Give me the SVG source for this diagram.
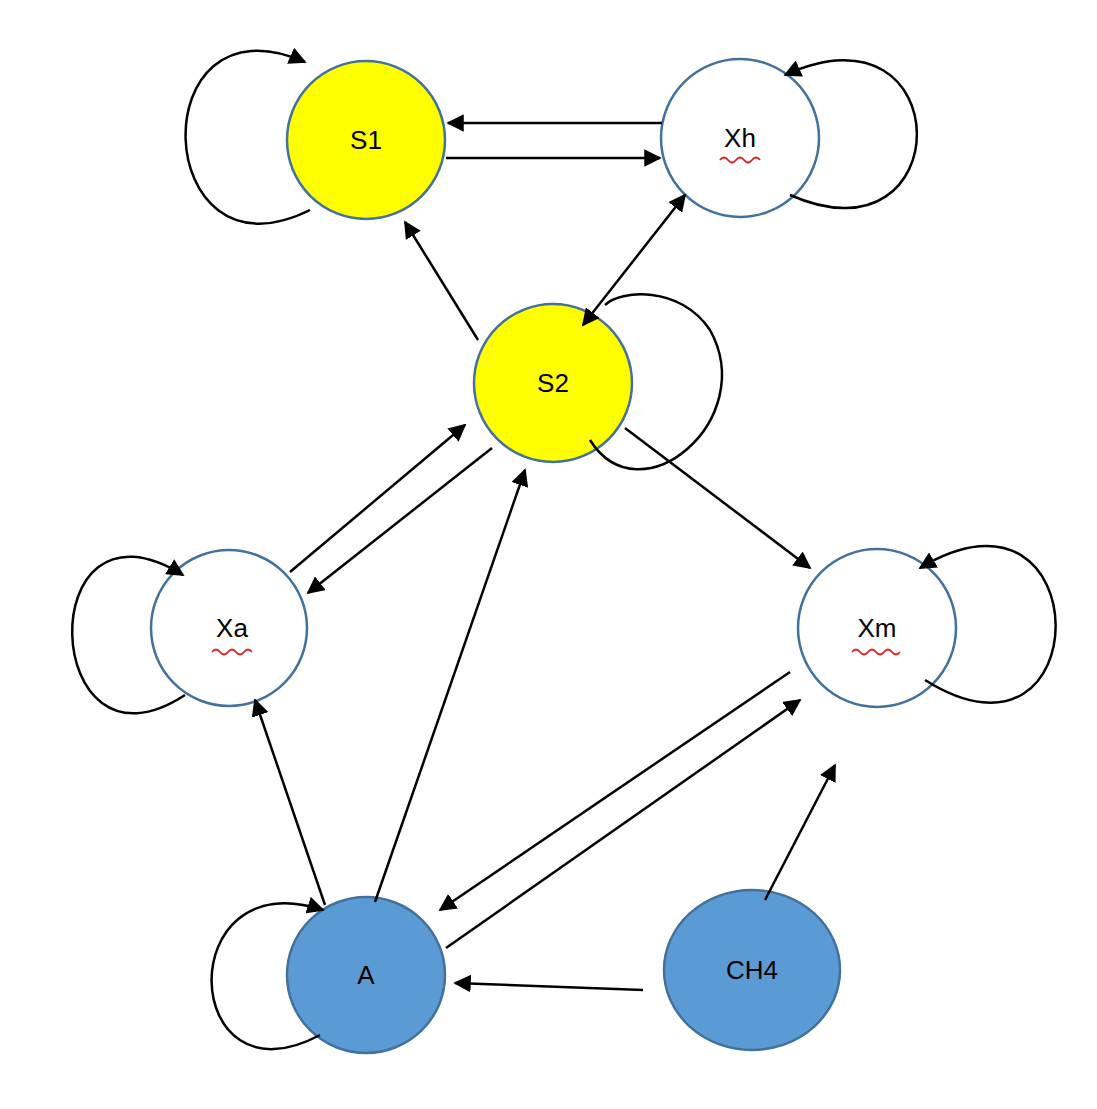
<svg xmlns="http://www.w3.org/2000/svg" width="1097" height="1109" viewBox="0 0 1097 1109">
<defs>
<marker id="ar" viewBox="0 0 10 10" refX="9" refY="5" markerWidth="7" markerHeight="7" orient="auto-start-reverse"><path d="M0,0 L10,5 L0,10 z" fill="#000"/></marker>
<style>
.n{stroke:#41719c;stroke-width:2.5}
.y{fill:#ffff00}.w{fill:#fff}.b{fill:#5b9bd5}
.t{font-family:"Liberation Sans",Arial,sans-serif;font-size:26px;text-anchor:middle;fill:#000}
.e{fill:none;stroke:#000;stroke-width:2.5}
.a{marker-end:url(#ar)}
.u{fill:none;stroke:#e02020;stroke-width:1.8}
</style>
</defs>
<rect width="1097" height="1109" fill="#fff"/>
<g id="S1"><circle class="n y" cx="366" cy="140" r="79"/><text class="t" x="366" y="149">S1</text></g>
<g id="Xh"><circle class="n w" cx="740" cy="138" r="79"/><text class="t" x="740" y="147">Xh</text><path class="u" d="M720,160 q4,-5 8,0 t8,0 t8,0 t8,0 t8,0"/></g>
<g id="S2"><circle class="n y" cx="553" cy="383" r="79"/><text class="t" x="553" y="392">S2</text></g>
<g id="Xa"><circle class="n w" cx="229" cy="628" r="78"/><text class="t" x="232" y="637">Xa</text><path class="u" d="M212,652 q4,-5 8,0 t8,0 t8,0 t8,0 t8,0"/></g>
<g id="Xm"><circle class="n w" cx="877" cy="628" r="79"/><text class="t" x="877" y="637">Xm</text><path class="u" d="M852,652 q4,-5 8,0 t8,0 t8,0 t8,0 t8,0 t8,0"/></g>
<g id="A"><ellipse class="n b" cx="366" cy="975" rx="79" ry="78"/><text class="t" x="366" y="984">A</text></g>
<g id="CH4"><ellipse class="n b" cx="752" cy="970" rx="88" ry="80"/><text class="t" x="752" y="979">CH4</text></g>
<g id="edges">
<path class="e a" d="M310,210 C150,290 140,-10 305,62"/>
<path class="e a" d="M662,123 L448,123"/>
<path class="e a" d="M446,158 L660,158"/>
<path class="e a" d="M790,195 C960,270 960,-5 785,75"/>
<path class="e a" d="M478,340 L405,222"/>
<path class="e a" style="marker-start:url(#ar)" d="M583,325 L685,195"/>
<path class="e" d="M590,440 C640,520 760,420 710,330 C680,285 620,290 605,305"/>
<path class="e a" d="M625,428 L810,568"/>
<path class="e a" d="M290,572 L465,425"/>
<path class="e a" d="M492,448 L308,593"/>
<path class="e a" d="M185,695 C40,790 30,480 183,575"/>
<path class="e a" d="M925,680 C1100,790 1100,460 920,568"/>
<path class="e a" d="M325,905 L255,700"/>
<path class="e a" d="M375,902 L525,470"/>
<path class="e a" d="M790,672 L440,910"/>
<path class="e a" d="M446,948 L800,700"/>
<path class="e a" d="M765,900 L835,765"/>
<path class="e a" d="M643,990 L455,983"/>
<path class="e a" d="M320,1035 C180,1110 170,860 323,910"/>
</g>
</svg>
